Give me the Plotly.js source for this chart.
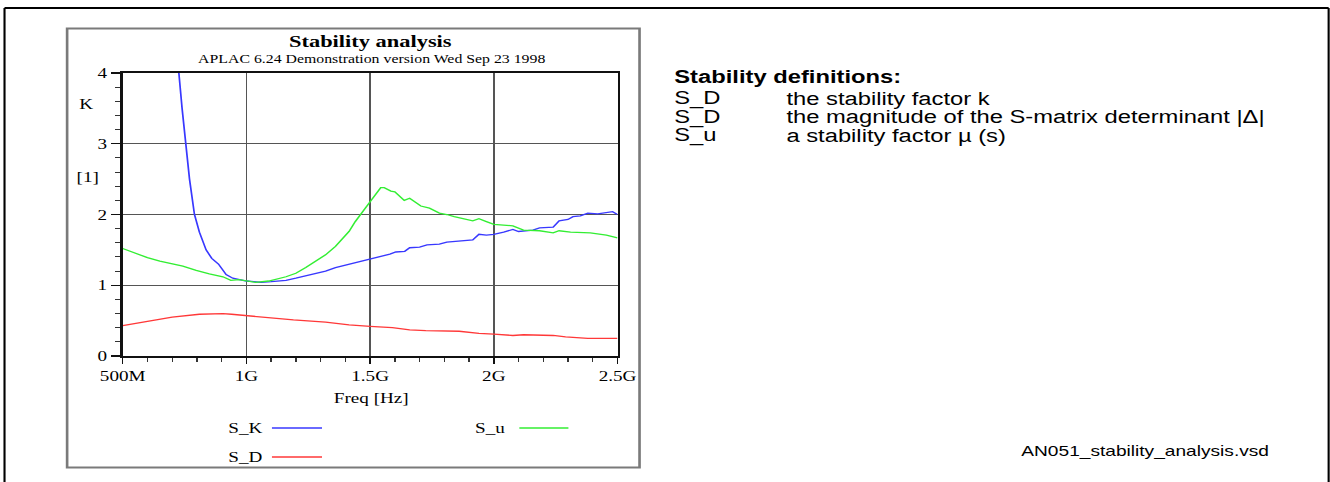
<!DOCTYPE html>
<html>
<head>
<meta charset="utf-8">
<script src="https://cdn.plot.ly/plotly-3.0.1.min.js"></script>
<style>
html,body{margin:0;padding:0;background:#fff;overflow:hidden;width:1330px;height:482px;}
#wrap{position:absolute;left:0;top:0;transform-origin:0 0;}
</style>
</head>
<body>
<div id="wrap"><div id="chart"></div></div>
<script>
// ---- data (frequency in GHz) ----
var skFreq = [0.70,0.727,0.74,0.754,0.77,0.79,0.81,0.837,0.86,0.887,0.905,0.918,0.945,0.972,1.0,1.03,1.06,1.1,1.16,1.2,1.26,1.32,1.36,1.42,1.455,1.5,1.55,1.58,1.604,1.64,1.66,1.7,1.73,1.78,1.81,1.86,1.915,1.94,1.97,2.0,2.04,2.077,2.1,2.158,2.185,2.24,2.264,2.3,2.32,2.35,2.38,2.42,2.45,2.48,2.5];
var skVal  = [4.6,4.0,3.5,3.0,2.5,2.0,1.75,1.5,1.38,1.3,1.2,1.15,1.1,1.08,1.06,1.05,1.04,1.05,1.07,1.1,1.15,1.2,1.25,1.3,1.34,1.37,1.41,1.44,1.47,1.48,1.53,1.54,1.57,1.58,1.61,1.62,1.64,1.72,1.71,1.72,1.75,1.79,1.76,1.78,1.81,1.82,1.91,1.93,1.97,1.98,2.02,2.01,2.02,2.04,2.0];

var suFreq = [0.5,0.55,0.6,0.65,0.69,0.743,0.797,0.85,0.905,0.937,0.97,1.0,1.037,1.09,1.16,1.2,1.24,1.32,1.36,1.415,1.44,1.5,1.543,1.557,1.584,1.6,1.638,1.66,1.705,1.74,1.78,1.81,1.84,1.915,1.94,1.97,2.0,2.077,2.12,2.185,2.24,2.264,2.31,2.39,2.455,2.5];
var suVal  = [1.52,1.45,1.39,1.34,1.31,1.27,1.21,1.16,1.12,1.07,1.08,1.06,1.04,1.06,1.12,1.17,1.25,1.43,1.55,1.76,1.9,2.18,2.38,2.38,2.33,2.32,2.2,2.23,2.12,2.09,2.02,2.0,1.97,1.91,1.94,1.9,1.86,1.84,1.78,1.77,1.74,1.77,1.75,1.74,1.71,1.67];

var sdFreq = [0.5,0.6,0.7,0.81,0.905,0.94,1.0,1.09,1.19,1.32,1.415,1.5,1.59,1.66,1.725,1.86,1.94,2.0,2.077,2.12,2.24,2.29,2.38,2.5];
var sdVal  = [0.43,0.49,0.55,0.59,0.60,0.59,0.57,0.54,0.51,0.48,0.44,0.42,0.40,0.37,0.36,0.35,0.32,0.31,0.29,0.30,0.29,0.27,0.25,0.25];

var xTickVals = [0.5,1,1.5,2,2.5];
var xTickText = ['500M','1G','1.5G','2G','2.5G'];
var yTickVals = [0,1,2,3,4];
var yTickText = ['0','1','2','3','4'];

var seriesNames = ['S_K','S_D','S_u'];
var seriesColors = ['#3838ff','#ff3838','#33ee33'];

var defRows = [
  ['S_D','the stability factor k'],
  ['S_D','the magnitude of the S-matrix determinant |\u0394|'],
  ['S_u','a stability factor \u00b5 (s)']
];

// ---- geometry (reference pixel space; page is stretched horizontally) ----
var SX = 1.32;
var W = Math.round(1330/SX), H = 482;
var PX0 = 123, PX1 = 617, PY0 = 356, PY1 = 73;
var wrap = document.getElementById('wrap');
wrap.style.width = W+'px'; wrap.style.height = H+'px';
wrap.style.transform = 'scaleX(' + (1330/W) + ')';
var sx = 1330/W;
function fx(px){ return (px/sx - PX0/sx)/((PX1-PX0)/sx); }
function fy(py){ return (PY0-py)/(PY0-PY1); }

var serif = 'Liberation Serif, Times New Roman, serif';
var sans = 'Liberation Sans, Arial, sans-serif';

var traces = [
  {x: skFreq, y: skVal, name: seriesNames[0], mode:'lines', line:{color:seriesColors[0], width:1.3}},
  {x: sdFreq, y: sdVal, name: seriesNames[1], mode:'lines', line:{color:seriesColors[1], width:1.3}},
  {x: suFreq, y: suVal, name: seriesNames[2], mode:'lines', line:{color:seriesColors[2], width:1.3}}
];

var shapes = [
  // outer frame
  {type:'line', xref:'paper', yref:'paper', x0:fx(5), x1:fx(5), y0:fy(8), y1:fy(490), line:{color:'#000', width:1.6}},
  {type:'line', xref:'paper', yref:'paper', x0:fx(5), x1:fx(1327), y0:fy(8), y1:fy(8), line:{color:'#000', width:2}},
  {type:'line', xref:'paper', yref:'paper', x0:fx(1327), x1:fx(1327), y0:fy(8), y1:fy(490), line:{color:'#000', width:1.6}},
  // inner chart frame
  {type:'rect', xref:'paper', yref:'paper', x0:fx(67.5), x1:fx(639), y0:fy(28.5), y1:fy(467.5), line:{color:'#7a7a7a', width:2}},
  // legend line samples
  {type:'line', xref:'paper', yref:'paper', x0:fx(272), x1:fx(322), y0:fy(428), y1:fy(428), line:{color:seriesColors[0], width:1.3}},
  {type:'line', xref:'paper', yref:'paper', x0:fx(272), x1:fx(322), y0:fy(457), y1:fy(457), line:{color:seriesColors[1], width:1.3}},
  {type:'line', xref:'paper', yref:'paper', x0:fx(519), x1:fx(568), y0:fy(428), y1:fy(428), line:{color:seriesColors[2], width:1.3}}
];

function ann(text, px, py, anchor, font){
  return {text:text, xref:'paper', yref:'paper', x:fx(px), y:fy(py), xanchor:anchor, yanchor:'middle', showarrow:false, font:font};
}
var annotations = [
  ann('<b>Stability analysis</b>', 371, 41, 'center', {family:serif, size:17, color:'#000'}),
  ann('APLAC 6.24 Demonstration version Wed Sep 23 1998', 371, 59, 'center', {family:serif, size:12, color:'#000'}),
  ann('K', 87, 104, 'center', {family:serif, size:14.5, color:'#000'}),
  ann('[1]', 88, 177, 'center', {family:serif, size:14.5, color:'#000'}),
  ann('Freq [Hz]', 371, 398, 'center', {family:serif, size:14.5, color:'#000'}),
  ann(seriesNames[0], 245, 428, 'center', {family:serif, size:14.5, color:'#000'}),
  ann(seriesNames[1], 245, 457, 'center', {family:serif, size:14.5, color:'#000'}),
  ann(seriesNames[2], 490, 428, 'center', {family:serif, size:14.5, color:'#000'}),
  ann('<b>Stability definitions:</b>', 671, 77, 'left', {family:sans, size:18, color:'#000'}),
  ann('AN051_stability_analysis.vsd', 1017, 451, 'left', {family:sans, size:14.5, color:'#000'})
];
var rowY = [98.5, 117, 135.5];
for (var i=0;i<defRows.length;i++){
  annotations.push(ann(defRows[i][0], 671, rowY[i], 'left', {family:sans, size:18, color:'#000'}));
  annotations.push(ann(defRows[i][1], 783, rowY[i], 'left', {family:sans, size:18, color:'#000'}));
}

var layout = {
  width: W, height: H,
  margin: {l: PX0/sx, r: W - PX1/sx, t: PY1, b: H - PY0, pad: 0},
  paper_bgcolor:'#fff', plot_bgcolor:'#fff',
  showlegend:false,
  font:{family:serif, size:14.5, color:'#000'},
  xaxis:{
    range:[0.5,2.5], tickmode:'array', tickvals:xTickVals, ticktext:xTickText,
    showline:true, mirror:true, linecolor:'#111', linewidth:1.6,
    showgrid:true, gridcolor:'#555', gridwidth:1.2, zeroline:false,
    ticks:'outside', ticklen:6, tickwidth:1.2, tickcolor:'#111',
    tickfont:{family:serif, size:14.5, color:'#000'},
    minor:{tickmode:'linear', tick0:0.5, dtick:0.1, ticks:'outside', ticklen:4, tickwidth:1, tickcolor:'#333', showgrid:false}
  },
  yaxis:{
    range:[0,4], tickmode:'array', tickvals:yTickVals, ticktext:yTickText,
    showline:true, mirror:true, linecolor:'#111', linewidth:2,
    showgrid:true, gridcolor:'#555', gridwidth:1.4, zeroline:false,
    ticks:'outside', ticklen:7, tickwidth:1.2, tickcolor:'#111',
    tickfont:{family:serif, size:14.5, color:'#000'},
    minor:{tickmode:'linear', tick0:0, dtick:0.2, ticks:'outside', ticklen:4, tickwidth:1, tickcolor:'#333', showgrid:false}
  },
  shapes: shapes,
  annotations: annotations
};

Plotly.newPlot('chart', traces, layout, {displayModeBar:false, staticPlot:true});
</script>
</body>
</html>
